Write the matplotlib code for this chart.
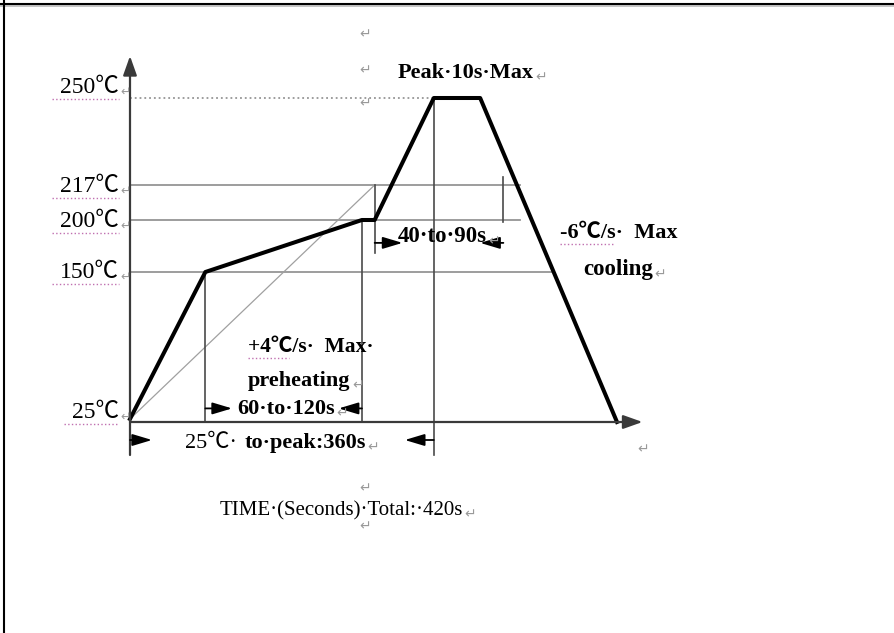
import numpy as np
import matplotlib.pyplot as plt
from matplotlib.lines import Line2D
from matplotlib.transforms import Bbox, TransformedBbox, IdentityTransform

W, H = 894, 633
FAM = ['Liberation Serif', 'Noto Sans CJK SC', 'DejaVu Sans']

# reflow profile, schematic time (s) vs temperature (C)
prof_t = [0, 65, 200, 211, 262, 302, 420]
prof_T = [25, 150, 200, 200, 250, 250, 22.5]
base_T = 22.5

levels = [250, 217, 200, 150, 25]
level_txt = ['250℃', '217℃', '200℃', '150℃', '25℃']

# horizontal reference lines
ref_T = [250, 217, 200, 150]
ref_end = [262, 336, 336, 366]
ref_ls = [':', '-', '-', '-']

# vertical markers
mark_t = [65, 200, 211, 262, 322]
mark_lo = [base_T, base_T, 168, -5, 198]
mark_hi = [150, 200, 217, 250, 220]

# time windows (start, end, arrow tips, height)
win_a = [65, 211, 0]
win_b = [200, 322, 262]
tip_a = [88, 235, 19]
tip_b = [180, 302, 237]
win_y = [34, 178, 7.5]

# the temperature axis of the drawing is not linear
anch_T = [-300, 25, 150, 200, 217, 250, 600]
anch_h = [-176, 214, 361, 413, 448, 535, 955]


def fwd(v):
    return np.interp(v, anch_T, anch_h)


def inv(v):
    return np.interp(v, anch_h, anch_T)


sec_px = 487 / 420

fig = plt.figure(figsize=(W / 100, H / 100), dpi=100)
ax = fig.add_axes([0, 0, 1, 1])
ax.set_yscale('function', functions=(fwd, inv))
ax.set_xlim(-130 / sec_px, (W - 130) / sec_px)
ax.set_ylim(inv(0), inv(H))
ax.axis('off')

# page border
fig.add_artist(Line2D([0, 1], [1 - 5.5 / H] * 2, color='#bbbbbb', lw=1.2))
fig.add_artist(Line2D([0, 1], [1 - 4.2 / H] * 2, color='black', lw=1.5))
fig.add_artist(Line2D([3.5 / W] * 2, [0, 1], color='black', lw=1.5))

# reference lines
for T, e, ls in zip(ref_T, ref_end, ref_ls):
    ax.plot([0, e], [T, T], color='#959595', lw=1.3, ls=ls)
ax.plot([0, 211], [25, 217], color='#a0a0a0', lw=0.9)

for t, lo, hi in zip(mark_t, mark_lo, mark_hi):
    ax.plot([t, t], [lo, hi], color='#4a4a4a', lw=1.2)

# axes with arrow heads
ap = dict(arrowstyle='-|>,head_length=0.9,head_width=0.32', mutation_scale=13,
          color='#3a3a3a', lw=1.6, shrinkA=0, shrinkB=0)
ax.annotate('', xy=(0, 285), xytext=(0, -5), arrowprops=ap)
ax.annotate('', xy=(442, base_T), xytext=(0, base_T), arrowprops=ap)

# profile
ax.plot(prof_t, prof_T, color='black', lw=2.9, solid_joinstyle='round')

# window arrows
ap2 = dict(arrowstyle='-|>,head_length=1.0,head_width=0.3', mutation_scale=12,
           color='black', lw=1.3, shrinkA=0, shrinkB=0)
for a, b, ta, tb, y in zip(win_a, win_b, tip_a, tip_b, win_y):
    ax.annotate('', xy=(ta, y), xytext=(a, y), arrowprops=ap2)
    ax.annotate('', xy=(tb, y), xytext=(b, y), arrowprops=ap2)


def put(x, y, s, size=16, bold=False, ha='left', color='black'):
    return ax.text(x / W, 1 - y / H, s, transform=ax.transAxes, ha=ha,
                   va='baseline', fontsize=size, color=color, family=FAM,
                   fontweight='bold' if bold else 'normal')


def ret(t, size=10):
    ax.annotate('↵', xy=(1, 0.25), xycoords=t, xytext=(1, 0),
                textcoords='offset points', va='center', ha='left',
                color='#9a9a9a', fontsize=size, family=FAM)


underline = []
lvl_y = {250: 93, 217: 192, 200: 227, 150: 278, 25: 418}
for T, s in zip(levels, level_txt):
    t = put(119, lvl_y[T], s, size=17, ha='right')
    ret(t, 9)
    underline.append(t)

t = put(398, 78, 'Peak·10s·Max', size=16, bold=True)
ret(t)
t = put(398, 242, '40·to·90s', size=16.5, bold=True)
ret(t)
t6 = put(560, 238, '-6℃/s·  Max', size=16, bold=True)
t6.set_clip_box(TransformedBbox(Bbox([[0, 0], [683 / W, 1]]), fig.transFigure))
t6.set_clip_on(True)
t = put(583, 275, 'cooling', size=16.5, bold=True)
ret(t)
t4 = put(248, 352, '+4℃/s·  Max·', size=15.5, bold=True)
t = put(248, 386, 'preheating', size=16, bold=True)
ret(t)
t = put(237, 414, '60·to·120s', size=16, bold=True)
ret(t)
put(185, 448, '25℃·', size=16)
t = put(245, 448, 'to·peak:360s', size=16, bold=True)
ret(t)
t = put(220, 515, 'TIME·(Seconds)·Total:·420s', size=15)
ret(t)

for x, y in [(365, 38), (365, 74), (365, 107), (365, 492), (365, 530), (643, 453)]:
    put(x, y, '↵', size=10, ha='center', color='#9a9a9a')

# spell-check style underlines
fig.canvas.draw()
rend = fig.canvas.get_renderer()
for t in underline:
    bb = t.get_window_extent(rend)
    fig.add_artist(Line2D([bb.x0 - 8, bb.x1], [bb.y0 - 1, bb.y0 - 1], transform=IdentityTransform(),
                          color='#c070b0', lw=1, ls=':'))
for t, frac in [(t4, 0.33), (t6, 0.45)]:
    bb = t.get_window_extent(rend)
    fig.add_artist(Line2D([bb.x0, bb.x0 + frac * bb.width], [bb.y0 - 1, bb.y0 - 1],
                          transform=IdentityTransform(), color='#c070b0', lw=1, ls=':'))

fig.savefig('out.png', dpi=100)
